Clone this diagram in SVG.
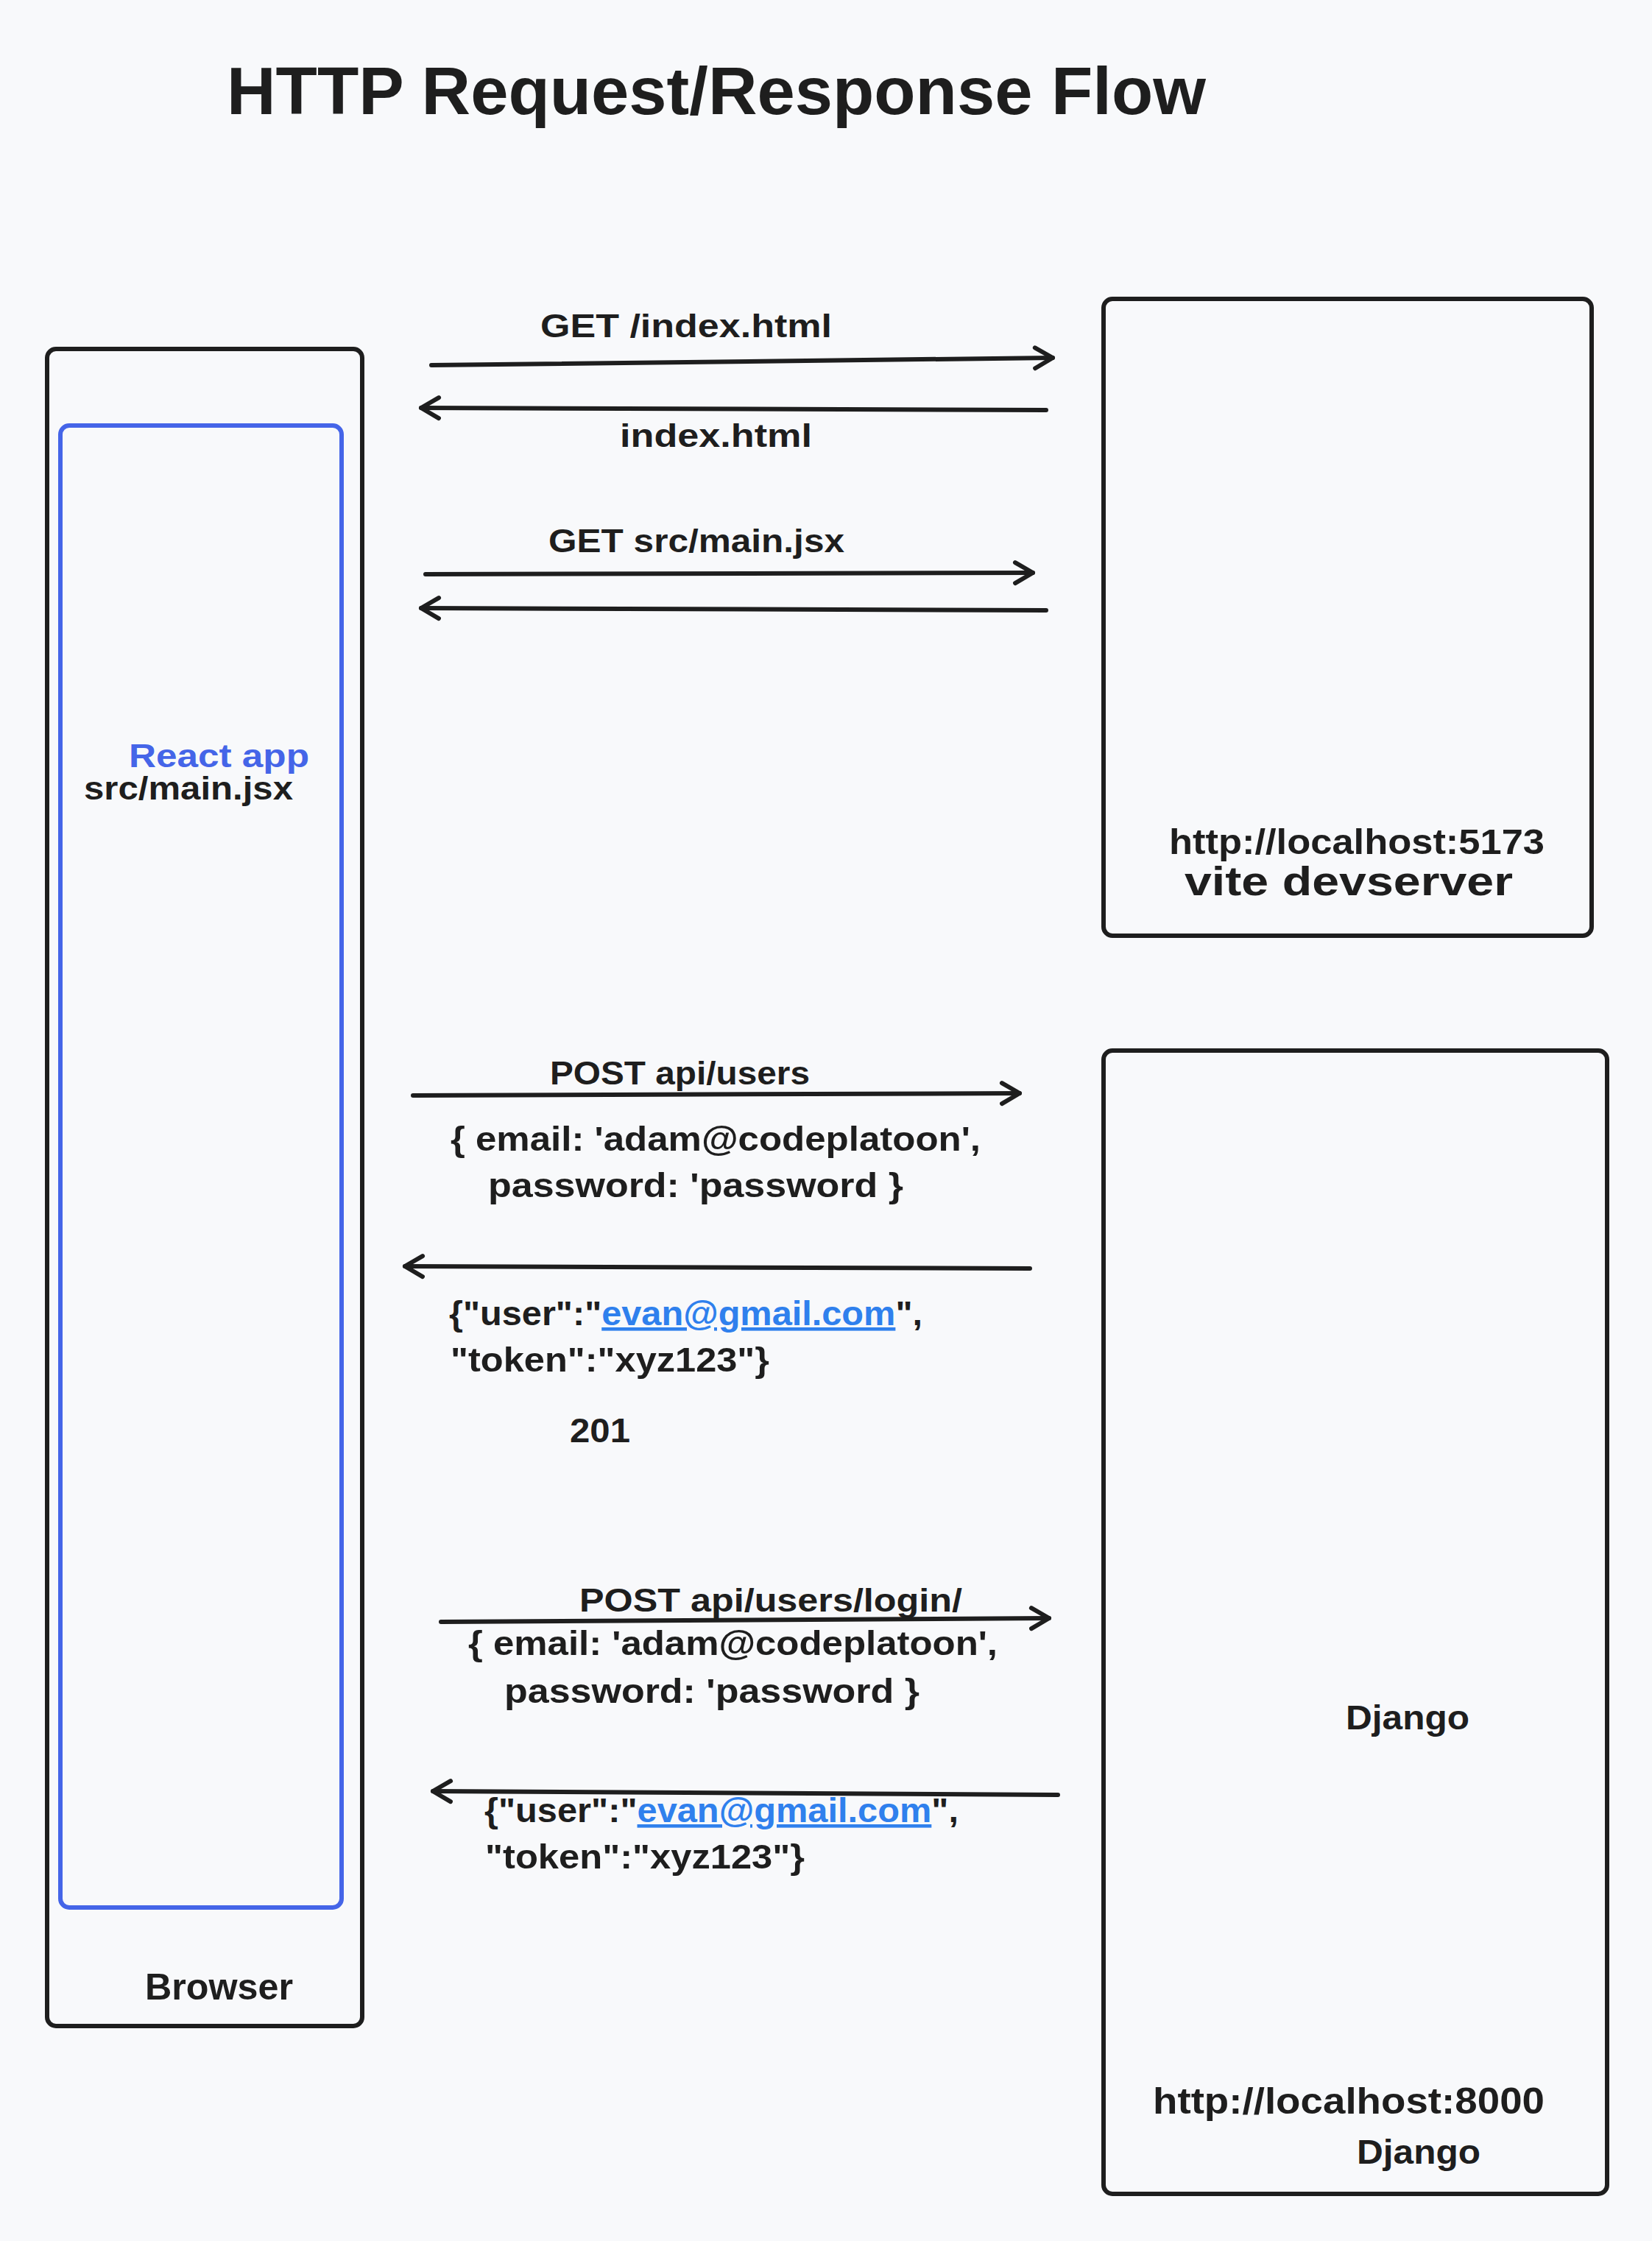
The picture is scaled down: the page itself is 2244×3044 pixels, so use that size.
<svg xmlns="http://www.w3.org/2000/svg" width="2244" height="3044" viewBox="0 0 2244 3044">
<defs>
<style>
.t{font-family:"Liberation Sans","Open Sans",sans-serif;font-weight:bold;fill:#1e1e1e}
.box{fill:none;stroke:#1e1e1e;stroke-width:6;stroke-linejoin:round}
.conn{stroke:#1e1e1e;stroke-width:6;stroke-linecap:round;fill:none}
.lnk{fill:#2f80ed;text-decoration:underline}
</style>
<marker id="ah" markerUnits="userSpaceOnUse" markerWidth="40" markerHeight="40" viewBox="-30 -20 40 40" refX="0" refY="0" orient="auto">
<path d="M-24,-14 L0,0 L-24,14" fill="none" stroke="#1e1e1e" stroke-width="6" stroke-linecap="round" stroke-linejoin="round"/>
</marker>
</defs>
<rect x="0" y="0" width="2244" height="3044" fill="#f8f9fb"/>
<text class="t" x="308" y="155" font-size="90" textLength="1330" lengthAdjust="spacingAndGlyphs">HTTP Request/Response Flow</text>

<g id="browser">
<rect class="box" x="64" y="474" width="428" height="2278" rx="12"/>
<text class="t" x="197" y="2716" font-size="50" textLength="201" lengthAdjust="spacingAndGlyphs">Browser</text>
</g>
<g id="react-app">
<rect x="82" y="578" width="382" height="2013" rx="12" fill="none" stroke="#4565e8" stroke-width="6"/>
<text class="t" x="114" y="1086" font-size="44" textLength="284" lengthAdjust="spacingAndGlyphs">src/main.jsx</text>
<text class="t" x="175" y="1042" font-size="44" style="fill:#4565e8" textLength="245" lengthAdjust="spacingAndGlyphs">React app</text>
</g>
<g id="vite">
<rect class="box" x="1499" y="406" width="663" height="865" rx="12"/>
<text class="t" x="1588" y="1160" font-size="48" textLength="510" lengthAdjust="spacingAndGlyphs">http://localhost:5173</text>
<text class="t" x="1609" y="1216" font-size="56" textLength="446" lengthAdjust="spacingAndGlyphs">vite devserver</text>
</g>
<g id="django">
<rect class="box" x="1499" y="1427" width="684" height="1553" rx="12"/>
<text class="t" x="1828" y="2349" font-size="46" textLength="168" lengthAdjust="spacingAndGlyphs">Django</text>
<text class="t" x="1566" y="2871" font-size="50" textLength="532" lengthAdjust="spacingAndGlyphs">http://localhost:8000</text>
<text class="t" x="1843" y="2939" font-size="46" textLength="168" lengthAdjust="spacingAndGlyphs">Django</text>
</g>

<g id="connectors">
<line class="conn" x1="586" y1="496" x2="1430" y2="486" marker-end="url(#ah)"/>
<line class="conn" x1="1421" y1="557" x2="572" y2="554" marker-end="url(#ah)"/>
<line class="conn" x1="578" y1="780" x2="1403" y2="778" marker-end="url(#ah)"/>
<line class="conn" x1="1421" y1="829" x2="572" y2="826" marker-end="url(#ah)"/>
<line class="conn" x1="561" y1="1488" x2="1385" y2="1485" marker-end="url(#ah)"/>
<line class="conn" x1="1399" y1="1723" x2="550" y2="1720" marker-end="url(#ah)"/>
<line class="conn" x1="599" y1="2203" x2="1425" y2="2198" marker-end="url(#ah)"/>
<line class="conn" x1="1437" y1="2438" x2="588" y2="2433" marker-end="url(#ah)"/>
</g>

<g id="labels">
<text class="t" x="734" y="458" font-size="44" textLength="396" lengthAdjust="spacingAndGlyphs">GET /index.html</text>
<text class="t" x="842" y="607" font-size="44" textLength="261" lengthAdjust="spacingAndGlyphs">index.html</text>
<text class="t" x="745" y="750" font-size="44" textLength="402" lengthAdjust="spacingAndGlyphs">GET src/main.jsx</text>
<text class="t" x="747" y="1473" font-size="44" textLength="353" lengthAdjust="spacingAndGlyphs">POST api/users</text>
<text class="t" x="612" y="1563" font-size="46" textLength="720" lengthAdjust="spacingAndGlyphs">{ email: 'adam@codeplatoon',</text>
<text class="t" x="663" y="1626" font-size="46" textLength="564" lengthAdjust="spacingAndGlyphs">password: 'password }</text>
<text class="t" x="610" y="1800" font-size="46" textLength="643" lengthAdjust="spacingAndGlyphs">{"user":"<tspan class="lnk">evan@gmail.com</tspan>",</text>
<text class="t" x="612" y="1863" font-size="46" textLength="433" lengthAdjust="spacingAndGlyphs">"token":"xyz123"}</text>
<text class="t" x="774" y="1959" font-size="46" textLength="82" lengthAdjust="spacingAndGlyphs">201</text>
<text class="t" x="787" y="2189" font-size="44" textLength="520" lengthAdjust="spacingAndGlyphs">POST api/users/login/</text>
<text class="t" x="636" y="2248" font-size="46" textLength="719" lengthAdjust="spacingAndGlyphs">{ email: 'adam@codeplatoon',</text>
<text class="t" x="685" y="2313" font-size="46" textLength="564" lengthAdjust="spacingAndGlyphs">password: 'password }</text>
<text class="t" x="658" y="2475" font-size="46" textLength="644" lengthAdjust="spacingAndGlyphs">{"user":"<tspan class="lnk">evan@gmail.com</tspan>",</text>
<text class="t" x="659" y="2538" font-size="46" textLength="434" lengthAdjust="spacingAndGlyphs">"token":"xyz123"}</text>
</g>
</svg>
